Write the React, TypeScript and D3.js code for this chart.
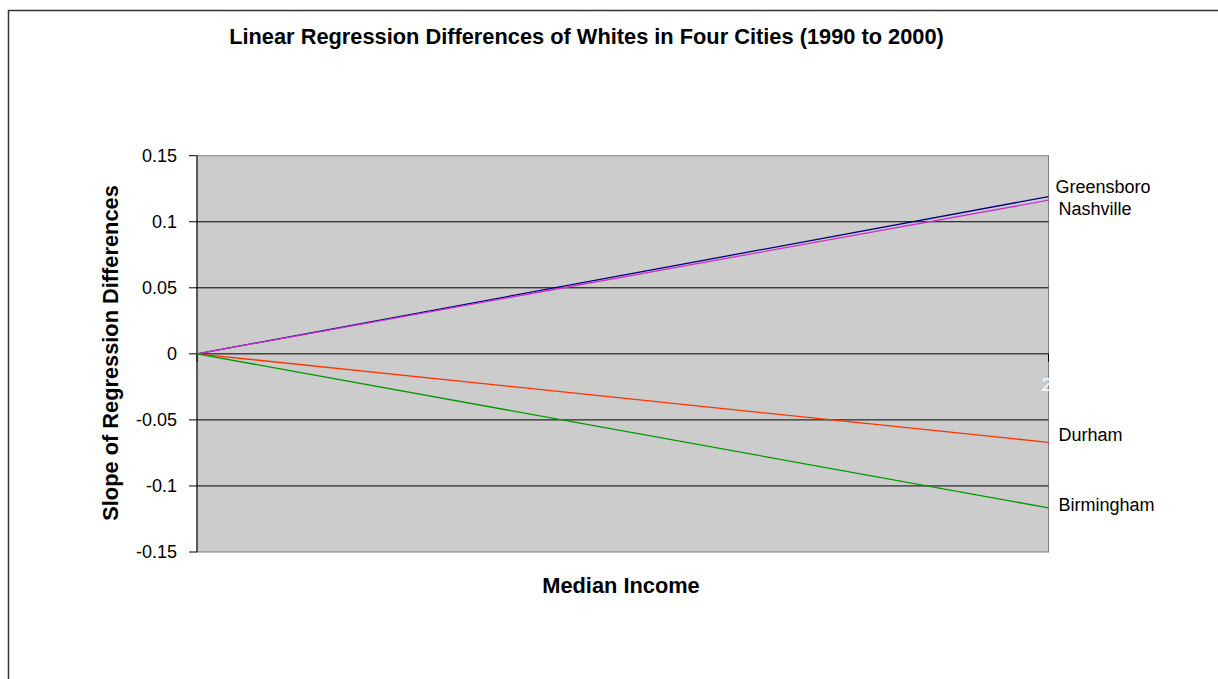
import React from "react";
import * as d3 from "d3";

// Two category positions along the income axis; each city has a start and end value.
const categories = ["1", "2"];
const cities = ["Greensboro", "Nashville", "Durham", "Birmingham"];
const greensboro = [0, 0.119];
const nashville = [0, 0.1163];
const durham = [0, -0.067];
const birmingham = [0, -0.1166];
const yTicks = [0.15, 0.1, 0.05, 0, -0.05, -0.1, -0.15];
const colors = ["#000080", "#CC33CC", "#FF3300", "#009900"];

const W = 1218;
const H = 679;
const plot = { left: 197, right: 1048.5, top: 155.7, bottom: 552 };
const FONT = "'Liberation Sans', Arial, sans-serif";

export default function App() {
  const series = [greensboro, nashville, durham, birmingham];
  const x = d3.scalePoint<string>().domain(categories).range([plot.left, plot.right]);
  const y = d3.scaleLinear().domain([-0.15, 0.15]).range([plot.bottom, plot.top]);
  const line = d3
    .line<number>()
    .x((_, i) => x(categories[i]) as number)
    .y((d) => y(d));
  const fmt = (v: number) => (v === 0 ? "0" : String(+v.toFixed(2)));
  // label offsets so close endpoints don't collide
  const labelDy = [-10, 8, -8, -3];
  const labelDx = [7, 10, 10, 10];
  const lastCat = categories[categories.length - 1];

  return (
    <svg
      width={W}
      height={H}
      style={{ position: "absolute", left: 0, top: 0, background: "#fff" }}
      fontFamily={FONT}
    >
      {/* outer chart frame */}
      <rect x={8.5} y={10.5} width={W + 20} height={H + 20} fill="none" stroke="#333" strokeWidth={1.5} />

      <text x={586.5} y={44} textAnchor="middle" fontSize={21.8} fontWeight="bold" fill="#000">
        Linear Regression Differences of Whites in Four Cities (1990 to 2000)
      </text>

      {/* plot background */}
      <rect
        x={plot.left}
        y={plot.top}
        width={plot.right - plot.left}
        height={plot.bottom - plot.top}
        fill="#CCCCCC"
        stroke="#808080"
        strokeWidth={1}
      />

      {/* gridlines and y ticks */}
      {yTicks.map((t) => (
        <g key={t}>
          {Math.abs(t) < 0.15 && (
            <line x1={plot.left} x2={plot.right} y1={y(t)} y2={y(t)} stroke="#000" strokeWidth={1} />
          )}
          <line x1={plot.left - 8} x2={plot.left} y1={y(t)} y2={y(t)} stroke="#000" strokeWidth={1} />
          <text x={177} y={y(t)} dy="0.35em" textAnchor="end" fontSize={18} fill="#000">
            {fmt(t)}
          </text>
        </g>
      ))}
      <line x1={plot.left} x2={plot.left} y1={plot.top} y2={plot.bottom} stroke="#000" strokeWidth={1} />

      {/* category axis at zero */}
      {categories.map((c) => (
        <line key={c} x1={x(c)} x2={x(c)} y1={y(0)} y2={y(0) + 8} stroke="#000" strokeWidth={1} />
      ))}
      <text x={(x(lastCat) as number) - 2} y={y(0) + 37} textAnchor="middle" fontSize={18} fill="#fff">
        {lastCat}
      </text>

      {/* series lines */}
      {series.map((s, i) => (
        <path key={cities[i]} d={line(s) || ""} fill="none" stroke={colors[i]} strokeWidth={1.3} />
      ))}

      {/* end labels */}
      {series.map((s, i) => (
        <text
          key={cities[i] + "-label"}
          x={(x(lastCat) as number) + labelDx[i]}
          y={y(s[s.length - 1]) + labelDy[i]}
          dy="0.35em"
          fontSize={18}
          fill="#000"
        >
          {cities[i]}
        </text>
      ))}

      <text
        transform={`translate(118, 353) rotate(-90)`}
        textAnchor="middle"
        fontSize={21.8}
        fontWeight="bold"
        fill="#000"
      >
        Slope of Regression Differences
      </text>
      <text x={621} y={593} textAnchor="middle" fontSize={21.8} fontWeight="bold" fill="#000">
        Median Income
      </text>
    </svg>
  );
}
